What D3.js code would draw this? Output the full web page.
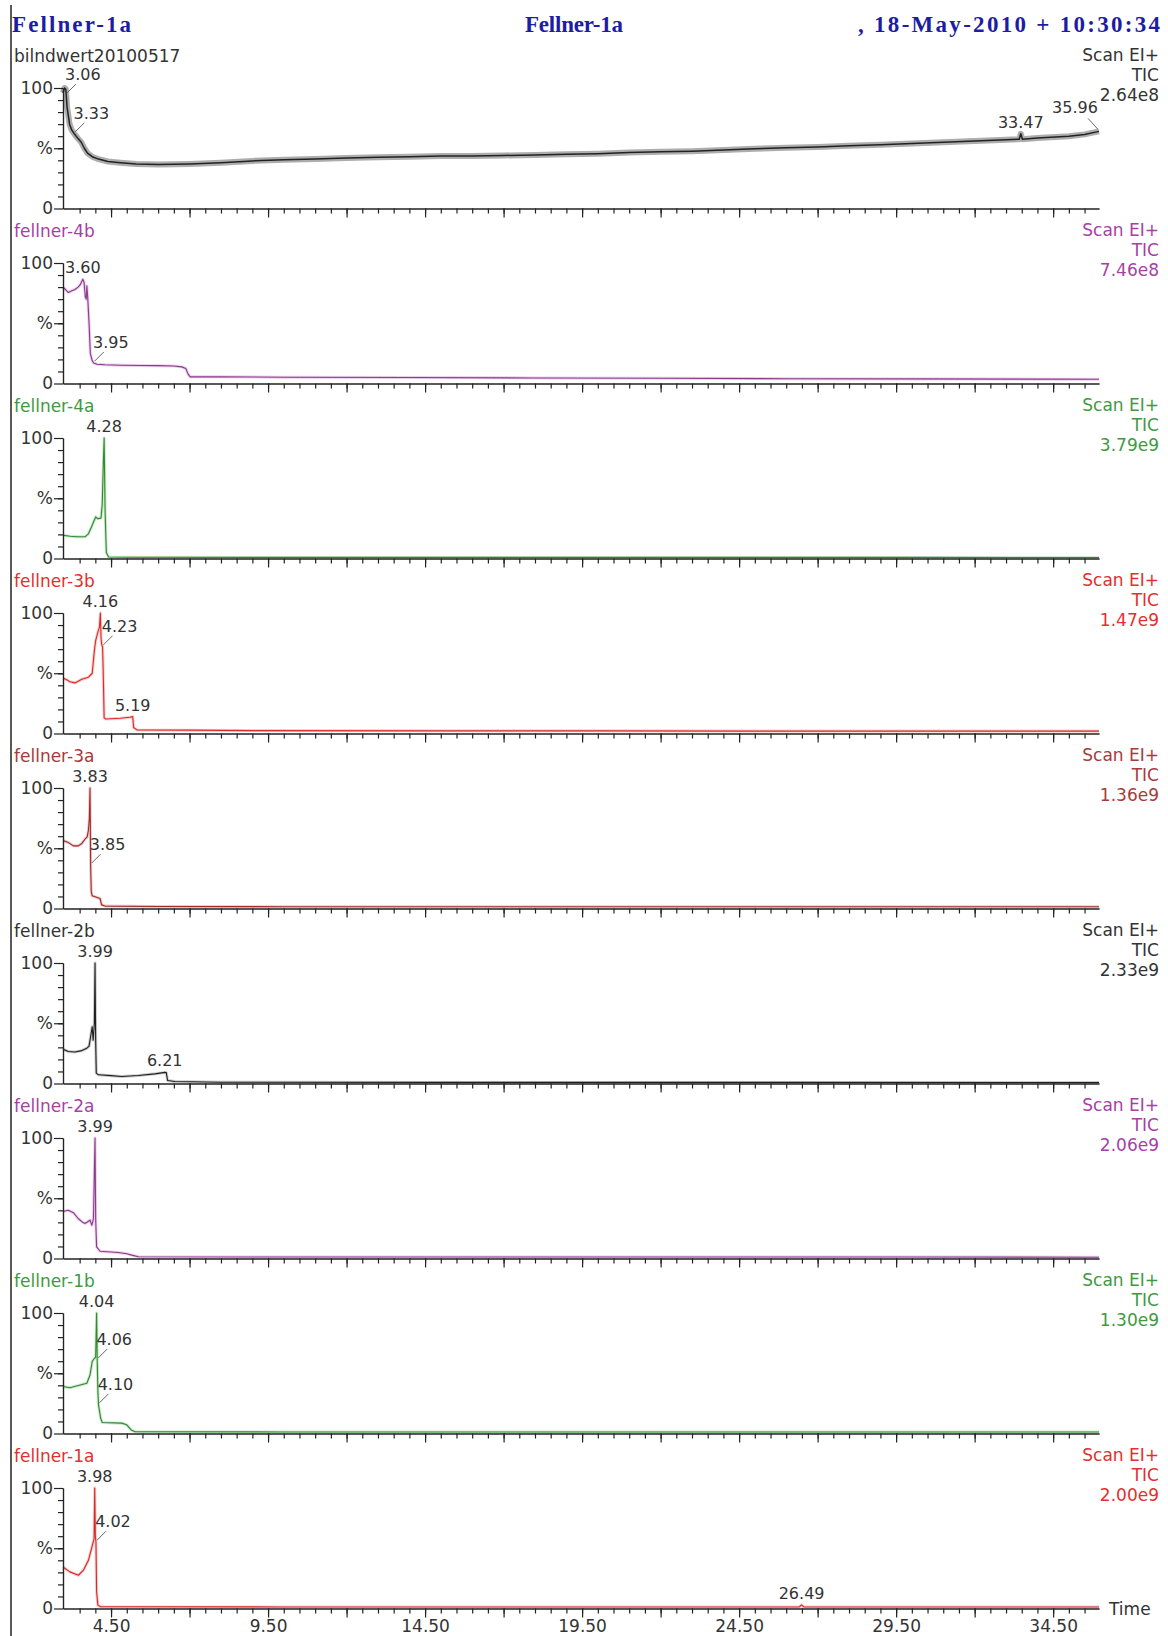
<!DOCTYPE html>
<html>
<head>
<meta charset="utf-8">
<script src="https://cdn.jsdelivr.net/npm/d3@7"></script>
<style>
  html, body { margin: 0; padding: 0; background: #fff; }
  svg { display: block; }
  text { font-family: "DejaVu Sans", Verdana, sans-serif; }
  .title { font-family: "Liberation Serif", "DejaVu Serif", serif; font-weight: bold; font-size: 23px; fill: #1c1ca4; }
</style>
</head>
<body>
<svg id="chart" width="1168" height="1636"></svg>
<script>
// header texts
const titleLeft = 'Fellner-1a';
const titleMid = 'Fellner-1a';
const titleRight = ', 18-May-2010 + 10:30:34';

// one entry per trace, top to bottom
const sampleNames = ['bilndwert20100517', 'fellner-4b', 'fellner-4a', 'fellner-3b', 'fellner-3a',
  'fellner-2b', 'fellner-2a', 'fellner-1b', 'fellner-1a'];
const ticIntensity = ['2.64e8', '7.46e8', '3.79e9', '1.47e9', '1.36e9', '2.33e9', '2.06e9', '1.30e9', '2.00e9'];

// x axis (minutes)
const timeDomain = [2.97, 35.96];
const timeLabelTicks = [4.5, 9.5, 14.5, 19.5, 24.5, 29.5, 34.5];

// [time, % of max]
const traceBlank = [[2.97, 96], [3.02, 100], [3.06, 99], [3.10, 84], [3.18, 70], [3.25, 65], [3.33, 62],
  [3.45, 58], [3.55, 55], [3.65, 50], [3.75, 46], [3.90, 43], [4.1, 41], [4.4, 39], [4.8, 38], [5.3, 37],
  [6, 36.5], [7, 37], [8, 38], [9, 39.5], [10, 40.5], [11, 41], [12, 42], [13, 42.5], [14, 43], [15, 43.5],
  [16, 43.5], [17, 44], [18, 44.5], [19, 45], [20, 45.5], [21, 46.5], [22, 47], [23, 47.5], [24, 48.5],
  [25, 49.5], [26, 50.5], [27, 51], [28, 52], [29, 53], [30, 54], [31, 55], [32, 56], [33, 57], [33.42, 57.5],
  [33.47, 62], [33.52, 57.5], [34, 58.5], [35, 60], [35.5, 61.5], [35.96, 64]];
const trace4b = [[2.97, 80], [3.05, 78], [3.14, 75.5], [3.25, 77], [3.35, 78], [3.45, 80], [3.52, 82],
  [3.60, 86.5], [3.64, 84], [3.68, 72], [3.71, 70], [3.73, 81], [3.76, 70], [3.80, 50], [3.84, 25], [3.90, 19],
  [3.95, 17], [4.05, 16], [4.3, 15.5], [4.8, 15.2], [5.4, 15], [6.0, 14.8], [6.5, 14.5], [6.75, 13.8],
  [6.88, 12.5], [6.95, 8], [7.02, 5.5], [8, 5.5], [10, 5.2], [14, 5], [18, 4.6], [22, 4.3], [26, 4],
  [30, 3.8], [34, 3.6], [35.96, 3.5]];
const trace4a = [[2.97, 19.3], [3.2, 18.5], [3.4, 18], [3.67, 18], [3.78, 20.5], [3.89, 27], [4.01, 34.5],
  [4.08, 33], [4.18, 33.5], [4.22, 45], [4.25, 75], [4.28, 100], [4.31, 40], [4.35, 5], [4.42, 1.2], [5, 1],
  [10, 0.9], [20, 0.9], [30, 0.9], [35.96, 0.8]];
const trace3b = [[2.97, 46], [3.1, 44.5], [3.19, 43], [3.35, 42], [3.57, 45], [3.78, 46.7], [3.90, 50],
  [3.97, 69], [4.01, 77], [4.06, 82], [4.10, 86], [4.13, 88], [4.16, 100], [4.18, 80], [4.20, 74], [4.23, 72],
  [4.25, 52], [4.28, 13], [4.33, 12], [4.8, 12.7], [5.1, 13.5], [5.19, 14], [5.22, 5], [5.32, 3], [7, 2.8],
  [9, 2.4], [15, 2.2], [20, 2.2], [25, 2.0], [30, 2.0], [35.96, 2.0]];
const trace3a = [[2.97, 56.5], [3.14, 54.7], [3.30, 52], [3.46, 52], [3.57, 54], [3.67, 57.5], [3.74, 59.5],
  [3.78, 65], [3.81, 75], [3.83, 100], [3.84, 70], [3.85, 36], [3.87, 14], [3.90, 10.5], [4.15, 8.3],
  [4.2, 3], [4.31, 2], [6, 1.6], [10, 1.5], [20, 1.5], [30, 1.4], [35.96, 1.4]];
const trace2b = [[2.97, 28.5], [3.14, 26.5], [3.35, 26.2], [3.57, 27.3], [3.73, 29.3], [3.80, 31], [3.85, 39],
  [3.90, 47], [3.93, 36], [3.97, 50], [3.99, 100], [4.01, 36], [4.03, 8.6], [4.10, 7.2], [4.5, 6.5],
  [4.84, 5.8], [5.37, 6.6], [5.90, 8], [6.21, 9.2], [6.26, 9], [6.30, 2.5], [6.53, 1.7], [8, 1.1], [15, 0.9],
  [25, 0.9], [35.96, 0.8]];
const trace2a = [[2.97, 39], [3.14, 40], [3.30, 38], [3.46, 33], [3.6, 30], [3.67, 29], [3.83, 31.8],
  [3.89, 27.6], [3.94, 33], [3.99, 100], [4.01, 33], [4.04, 9.7], [4.15, 6], [4.73, 5], [5.0, 4], [5.16, 2.8],
  [5.37, 1.4], [10, 1.2], [20, 1.2], [30, 1.2], [35.96, 1.1]];
const trace1b = [[2.97, 39], [3.19, 38], [3.46, 39.8], [3.73, 41.7], [3.83, 48.6], [3.90, 59.7], [3.97, 62.4],
  [4.01, 63], [4.04, 100], [4.06, 61], [4.08, 36], [4.10, 23.8], [4.17, 12.7], [4.22, 9.1], [4.84, 8.6],
  [5.0, 7.2], [5.14, 3], [5.27, 1.4], [10, 1.3], [20, 1.3], [30, 1.3], [35.96, 1.2]];
const trace1a = [[2.97, 34.5], [3.19, 30.4], [3.46, 27.6], [3.62, 31.8], [3.78, 40], [3.89, 51], [3.96, 58],
  [3.98, 100], [4.00, 60], [4.02, 55], [4.04, 14], [4.08, 2.8], [4.17, 1.4], [10, 1.3], [20, 1.3],
  [26.42, 1.3], [26.49, 3], [26.56, 1.3], [30, 1.3], [35.96, 1.2]];

// labelled peaks: [time, %, label]
const peaksBlank = [[3.06, 94, '3.06'], [3.33, 62, '3.33'], [33.47, 62, '33.47'], [35.96, 64, '35.96']];
const peaks4b = [[3.60, 86.5, '3.60'], [3.95, 17, '3.95']];
const peaks4a = [[4.28, 100, '4.28']];
const peaks3b = [[4.16, 100, '4.16'], [4.23, 72, '4.23'], [5.19, 14, '5.19']];
const peaks3a = [[3.83, 100, '3.83'], [3.85, 36, '3.85']];
const peaks2b = [[3.99, 100, '3.99'], [6.21, 9.2, '6.21']];
const peaks2a = [[3.99, 100, '3.99']];
const peaks1b = [[4.04, 100, '4.04'], [4.06, 61, '4.06'], [4.10, 23.8, '4.10']];
const peaks1a = [[3.98, 100, '3.98'], [4.02, 55, '4.02'], [26.49, 3, '26.49']];

const traces = [traceBlank, trace4b, trace4a, trace3b, trace3a, trace2b, trace2a, trace1b, trace1a];
const peaks = [peaksBlank, peaks4b, peaks4a, peaks3b, peaks3a, peaks2b, peaks2a, peaks1b, peaks1a];

// styling
const lineColor = ['#222222', '#8a3c8a', '#2e8b2e', '#dd2a2a', '#a32a2a', '#202020', '#8a3c8a', '#2e8b2e', '#d42a2a'];
const haloColor = ['#6a6a6a', '#d9a6d9', '#a3d3a3', '#f2a0a0', '#d9a0a0', '#a0a0a0', '#d9a6d9', '#a3d3a3', '#f2a0a0'];
const textColor = ['#333', '#a63fa6', '#3f9a3f', '#e2302f', '#a83a3a', '#333', '#a63fa6', '#3f9a3f', '#e2302f'];
const leaderRight = new Set(['3.06', '3.33', '3.95', '4.23', '3.85', '4.06', '4.10', '4.02']);
const leaderLeft = new Set(['35.96']);

const W = 1168, H = 1636;
const firstBase = 208.5, step = 175, plotH = 120.5;

const svg = d3.select('#chart');
svg.append('rect').attr('width', W).attr('height', H).attr('fill', '#fff');

const x = d3.scaleLinear().domain(timeDomain).range([63, 1099]);

// frame line on the left
svg.append('line')
  .attr('x1', 11).attr('x2', 11).attr('y1', 5).attr('y2', H)
  .attr('stroke', '#222').attr('stroke-width', 1.5);

// header
svg.append('text').attr('class', 'title').attr('x', 12).attr('y', 32)
  .attr('textLength', 119).attr('lengthAdjust', 'spacing').text(titleLeft);
svg.append('text').attr('class', 'title').attr('x', 525).attr('y', 32)
  .attr('textLength', 98).attr('lengthAdjust', 'spacing').text(titleMid);
svg.append('text').attr('class', 'title').attr('x', 858).attr('y', 32)
  .attr('textLength', 302).attr('lengthAdjust', 'spacing').text(titleRight);

const minorTimes = d3.range(3.5, 35.9, 0.5);
const majorTimes = d3.range(4.5, 35.9, 2.5);
const fmt = d3.format('.2f');

traces.forEach((trace, i) => {
  const base = firstBase + i * step;
  const y = d3.scaleLinear().domain([0, 100]).range([base, base - plotH]);
  const g = svg.append('g');

  // sample name and scan info
  g.append('text').attr('x', 14).attr('y', base - 147)
    .attr('font-size', 17).attr('fill', textColor[i]).text(sampleNames[i]);
  ['Scan EI+', 'TIC', ticIntensity[i]].forEach((s, k) => {
    g.append('text').attr('x', 1159).attr('y', base - 148 + k * 20)
      .attr('text-anchor', 'end').attr('font-size', 17)
      .attr('fill', textColor[i]).text(s);
  });

  // trace: soft wide stroke for the noise band, thin stroke on top
  const line = d3.line().x(d => x(d[0])).y(d => y(d[1]));
  g.append('path').datum(trace).attr('d', line)
    .attr('fill', 'none').attr('stroke', haloColor[i])
    .attr('stroke-width', i === 0 ? 6 : 3).attr('stroke-opacity', i === 0 ? 0.55 : 0.55)
    .attr('stroke-linejoin', 'round');
  g.append('path').datum(trace).attr('d', line)
    .attr('fill', 'none').attr('stroke', lineColor[i])
    .attr('stroke-width', i === 0 ? 1.5 : 1.1).attr('stroke-linejoin', 'round');

  // y axis
  const yMinor = g.append('g').attr('transform', 'translate(63,0)')
    .call(d3.axisLeft(y).tickValues(d3.range(10, 100, 10)).tickSize(5).tickSizeOuter(0).tickFormat(''));
  const yMajor = g.append('g').attr('transform', 'translate(63,0)')
    .call(d3.axisLeft(y).tickValues([0, 50, 100]).tickSize(9).tickSizeOuter(0).tickPadding(1)
      .tickFormat(d => d === 50 ? '%' : d));
  [yMinor, yMajor].forEach(a => {
    a.selectAll('path, line').attr('stroke', '#222').attr('stroke-width', 1.2);
    a.selectAll('text').attr('font-size', 17).attr('fill', '#333')
      .attr('font-family', '"DejaVu Sans", Verdana, sans-serif');
  });

  // x axis
  const last = i === traces.length - 1;
  const xMinor = g.append('g').attr('transform', `translate(0,${base})`)
    .call(d3.axisBottom(x).tickValues(minorTimes).tickSize(5).tickSizeOuter(0).tickFormat(''));
  const xMajor = g.append('g').attr('transform', `translate(0,${base})`)
    .call(d3.axisBottom(x).tickValues(majorTimes).tickSize(9).tickSizeOuter(0).tickPadding(2)
      .tickFormat(d => (last && timeLabelTicks.includes(d)) ? fmt(d) : ''));
  [xMinor, xMajor].forEach(a => {
    a.selectAll('path, line').attr('stroke', '#222').attr('stroke-width', 1.2);
    a.selectAll('text').attr('font-size', 17).attr('fill', '#333')
      .attr('font-family', '"DejaVu Sans", Verdana, sans-serif');
  });
  if (last) {
    g.append('text').attr('x', 1109).attr('y', base + 6)
      .attr('font-size', 17).attr('fill', '#333').text('Time');
  }

  // peak labels
  peaks[i].forEach(([t, p, label]) => {
    const px = x(t), py = y(p);
    let tx = px, ty = py - 6;
    if (leaderRight.has(label)) {
      g.append('line').attr('x1', px + 1).attr('y1', py - 2).attr('x2', px + 10).attr('y2', py - 11)
        .attr('stroke', '#666').attr('stroke-width', 1);
      tx = px + 17; ty = py - 15;
    } else if (leaderLeft.has(label)) {
      g.append('line').attr('x1', px - 1).attr('y1', py - 2).attr('x2', px - 11).attr('y2', py - 13)
        .attr('stroke', '#666').attr('stroke-width', 1);
      tx = px - 24; ty = py - 18;
    }
    g.append('text').attr('x', tx).attr('y', ty).attr('text-anchor', 'middle')
      .attr('font-size', 16).attr('fill', '#333').text(label);
  });
});
</script>
</body>
</html>
